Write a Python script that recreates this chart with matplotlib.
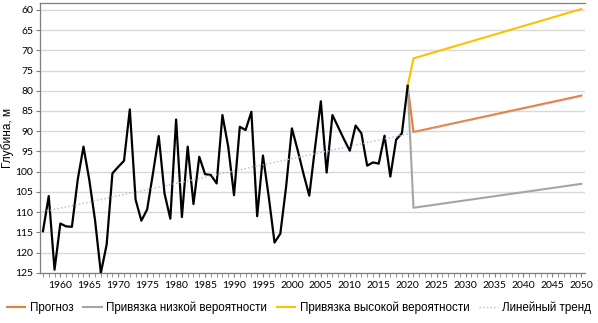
import matplotlib
matplotlib.use("Agg")
import matplotlib.pyplot as plt
import numpy as np
from matplotlib.ticker import MultipleLocator

# наблюдения: глубина, м
years = list(range(1957, 2021))
depth = [114.7, 106.0, 124.2, 112.8, 113.5, 113.6, 102.0, 93.8, 102.0, 112.0,
         125.0, 118.0, 100.4, 98.8, 97.3, 84.6, 106.9, 112.1, 109.3, 100.4,
         91.2, 105.4, 111.6, 87.1, 111.2, 93.8, 108.0, 96.3, 100.6, 100.8,
         102.9, 86.0, 93.8, 105.8, 88.9, 89.7, 85.2, 111.0, 96.0, 106.2,
         117.5, 115.3, 103.7, 89.3, 94.7, 100.5, 105.9, 94.0, 82.6, 100.2,
         86.0, 89.0, 92.0, 94.8, 88.6, 90.5, 98.5, 97.7, 98.0, 91.1,
         101.2, 92.1, 90.5, 78.8]

# прогнозы
fc_years = [2020, 2021, 2050]
forecast = [78.8, 90.2, 81.2]
low_prob = [78.8, 108.9, 103.0]
high_prob = [78.8, 72.0, 59.8]

# линейный тренд
trend_years = [1957, 2050]
trend = [109.9, 81.5]

fig = plt.figure(figsize=(5.98, 3.23), dpi=100)
ax = fig.add_axes([0.067, 0.155, 0.911, 0.836])

ax.plot(years, depth, color='black', lw=1.6, zorder=4)
l1, = ax.plot(fc_years, forecast, color='#ed7d31', lw=1.5, zorder=3)
l2, = ax.plot(fc_years, low_prob, color='#a5a5a5', lw=1.5, zorder=3)
l3, = ax.plot(fc_years, high_prob, color='#ffc000', lw=1.5, zorder=3)
l4, = ax.plot(trend_years, trend, color='#9dc3e6', lw=1.0, ls=':', zorder=5)

ax.set_xlim(1956.5, 2050.6)
ax.set_ylim(125, 58.3)
ax.set_yticks(np.arange(60, 126, 5))
ax.set_xticks(np.arange(1960, 2051, 5))
ax.xaxis.set_minor_locator(MultipleLocator(1))
ax.grid(axis='y', color='#d9d9d9', lw=1.0)
ax.set_axisbelow(True)

for s in ['left', 'top', 'bottom']:
    ax.spines[s].set_color('#7f7f7f')
    ax.spines[s].set_linewidth(0.9)
ax.spines['right'].set_visible(False)

ax.tick_params(axis='y', length=3, color='#7f7f7f', labelsize=7.5, pad=2)
ax.tick_params(axis='x', which='both', direction='out', length=3,
               color='#7f7f7f', labelsize=7.5, pad=3)
for t in ax.get_xticklabels() + ax.get_yticklabels():
    t.set_family(['Lato', 'DejaVu Sans'])

ax.set_ylabel('Глубина, м', fontsize=8.5, family=['Liberation Sans', 'DejaVu Sans'])
ax.yaxis.set_label_coords(-0.048, 0.5)

fig.legend([l1, l2, l3, l4],
           ['Прогноз', 'Привязка низкой вероятности',
            'Привязка высокой вероятности', 'Линейный тренд'],
           loc='lower center', bbox_to_anchor=(0.5, -0.005), ncol=4, frameon=False,
           prop={'family': ['Liberation Sans', 'DejaVu Sans'], 'size': 8.4},
           handlelength=1.6, handletextpad=0.4, columnspacing=0.8)

fig.savefig('out.png', dpi=100)
